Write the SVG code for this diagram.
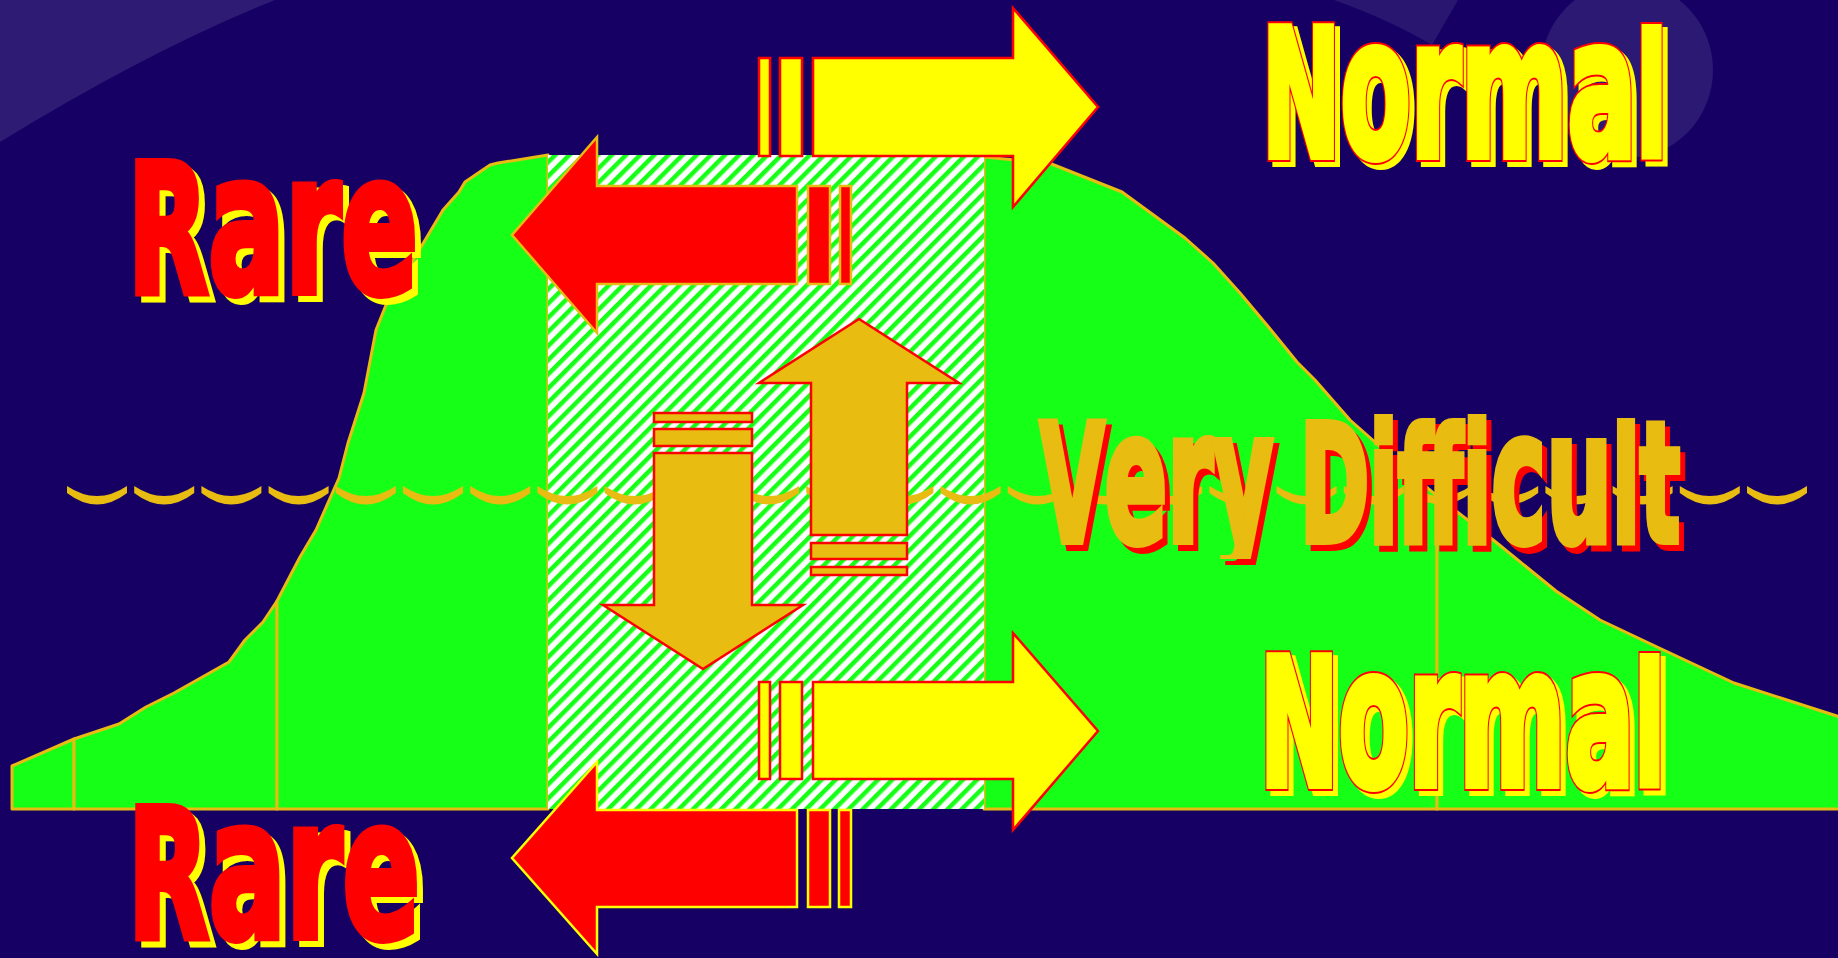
<svg xmlns="http://www.w3.org/2000/svg" width="1838" height="958" viewBox="0 0 1838 958">
<defs>
<style>
.bg{fill:#170064}
.glow{fill:#2e1c74}
.hill{fill:#16ff16;stroke:#e8bc10;stroke-width:3;stroke-linejoin:round}
.wave{fill:#e8bc10}
.ya{fill:#ffff00;stroke:#ff0000;stroke-width:2.5}
.ra1{fill:#ff0000;stroke:#e8bc10;stroke-width:2.5}
.ra2{fill:#ff0000;stroke:#ffff00;stroke-width:2.5}
.ga{fill:#e8bc10;stroke:#ff0000;stroke-width:2.5}
.lbl{font-family:"DejaVu Sans","Liberation Sans",sans-serif;font-weight:bold;stroke-linejoin:miter;stroke-miterlimit:3}
.n-sh{fill:#ffff00;stroke:#ffff00;stroke-width:12}
.n-out{fill:#ff0000;stroke:#ff0000;stroke-width:12}
.n-in{fill:#ffff00;stroke:#ffff00;stroke-width:8}
.r-sh{fill:#ffff00;stroke:#ffff00;stroke-width:8}
.r-in{fill:#ff0000;stroke:#ff0000;stroke-width:8}
.v-sh{fill:#ff0000;stroke:#ff0000;stroke-width:8}
.v-in{fill:#e8bc10;stroke:#e8bc10;stroke-width:8}
</style>
<pattern id="hatch" patternUnits="userSpaceOnUse" width="10" height="10" patternTransform="rotate(45)">
<rect width="10" height="10" fill="#ffffff"/>
<rect width="4.5" height="10" fill="#16ff16"/>
</pattern>
<clipPath id="clip-very" clipPathUnits="userSpaceOnUse">
<rect x="0" y="0" width="1838" height="559"/>
</clipPath>
<text id="t-normal-top" class="lbl" x="1262" y="156" textLength="405" lengthAdjust="spacingAndGlyphs"><tspan font-size="176">N</tspan><tspan font-size="192">orma</tspan><tspan font-size="168">l</tspan></text>
<text id="t-normal-bot" class="lbl" x="1260" y="785" textLength="405" lengthAdjust="spacingAndGlyphs"><tspan font-size="176">N</tspan><tspan font-size="192">orma</tspan><tspan font-size="168">l</tspan></text>
<text id="t-rare-top" class="lbl" x="128" y="292" textLength="290" lengthAdjust="spacingAndGlyphs"><tspan font-size="178">R</tspan><tspan font-size="194">are</tspan></text>
<text id="t-rare-bot" class="lbl" x="128" y="937" textLength="292" lengthAdjust="spacingAndGlyphs"><tspan font-size="178">R</tspan><tspan font-size="194">are</tspan></text>
<text id="t-very" class="lbl" x="1040" y="541" textLength="640" lengthAdjust="spacingAndGlyphs"><tspan font-size="163">V</tspan><tspan font-size="181">ery</tspan><tspan font-size="150"> </tspan><tspan font-size="163">D</tspan><tspan font-size="163">i</tspan><tspan font-size="157">ff</tspan><tspan font-size="163">i</tspan><tspan font-size="181">cu</tspan><tspan font-size="157">l</tspan><tspan font-size="165">t</tspan></text>
</defs>

<g id="background">
<rect class="bg" x="0" y="0" width="1838" height="958"/>
<path class="glow" d="M0,0 L275,0 Q150,50 0,142 Z"/>
<path class="glow" d="M1334,0 L1458,0 L1432,45 Q1390,20 1334,0 Z" opacity="0.8"/>
<ellipse class="glow" cx="1627" cy="70" rx="86" ry="88" opacity="0.9"/>
</g>

<g id="distribution">
<polygon class="hill" points="12,766 74,739 74,809 12,809"/>
<polygon class="hill" points="74,739 119,724 146,707 174,693 229,662 245,640 263,622 277,601 277,809 74,809"/>
<polygon class="hill" points="277,601 300,557 316,530 339,478 348,443 364,393 376,330 386,305 395,290 421,247 443,210 459,192 465,182 490,165 498,163 548,155 548,809 277,809"/>
<polygon class="hill" points="984,157 1049,163 1122,192 1185,238 1213,263 1240,293 1271,330 1297,362 1315,380 1350,420 1410,473 1437,496 1437,809 984,809"/>
<polygon class="hill" points="1437,496 1497,543 1556,591 1600,620 1655,646 1734,683 1840,717 1840,809 1437,809"/>
<rect id="hatched-band" x="548" y="155" width="436" height="654" fill="url(#hatch)"/>
</g>

<g id="waterline">
<path class="wave" d="M67,486 q30,20 60,0v7q-30,23-60,0zm67.2,0 q30,20 60,0v7q-30,23-60,0zm67.2,0 q30,20 60,0v7q-30,23-60,0zm67.2,0 q30,20 60,0v7q-30,23-60,0zm67.2,0 q30,20 60,0v7q-30,23-60,0zm67.2,0 q30,20 60,0v7q-30,23-60,0zm67.2,0 q30,20 60,0v7q-30,23-60,0zm67.2,0 q30,20 60,0v7q-30,23-60,0zm67.2,0 q30,20 60,0v7q-30,23-60,0zm67.2,0 q30,20 60,0v7q-30,23-60,0zm67.2,0 q30,20 60,0v7q-30,23-60,0zm67.2,0 q30,20 60,0v7q-30,23-60,0zm67.2,0 q30,20 60,0v7q-30,23-60,0zm67.2,0 q30,20 60,0v7q-30,23-60,0zm67.2,0 q30,20 60,0v7q-30,23-60,0zm67.2,0 q30,20 60,0v7q-30,23-60,0zm67.2,0 q30,20 60,0v7q-30,23-60,0zm67.2,0 q30,20 60,0v7q-30,23-60,0zm67.2,0 q30,20 60,0v7q-30,23-60,0zm67.2,0 q30,20 60,0v7q-30,23-60,0zm67.2,0 q30,20 60,0v7q-30,23-60,0zm67.2,0 q30,20 60,0v7q-30,23-60,0zm67.2,0 q30,20 60,0v7q-30,23-60,0zm67.2,0 q30,20 60,0v7q-30,23-60,0zm67.2,0 q30,20 60,0v7q-30,23-60,0zm67.2,0 q30,20 60,0v7q-30,23-60,0z"/>
</g>

<g id="connectors">
<g id="arrow-yellow-top">
<rect class="ya" x="759" y="58" width="11" height="98"/>
<rect class="ya" x="780" y="58" width="22" height="98"/>
<polygon class="ya" points="813,58 1013,58 1013,8 1098,107 1013,207 1013,156 813,156"/>
</g>
<g id="arrow-red-top">
<polygon class="ra1" points="797,186 597,186 597,137 512,235 597,333 597,284 797,284"/>
<rect class="ra1" x="808" y="186" width="22" height="98"/>
<rect class="ra1" x="840" y="186" width="11" height="98"/>
</g>
<g id="arrow-up">
<polygon class="ga" points="811,535 811,383 759,383 859,319 959,383 907,383 907,535"/>
<rect class="ga" x="811" y="543" width="96" height="16"/>
<rect class="ga" x="811" y="567" width="96" height="8"/>
</g>
<g id="arrow-down">
<rect class="ga" x="654" y="413" width="98" height="9"/>
<rect class="ga" x="654" y="429" width="98" height="17"/>
<polygon class="ga" points="654,453 752,453 752,605 803,605 703,669 603,605 654,605"/>
</g>
<g id="arrow-yellow-bottom">
<rect class="ya" x="759" y="682" width="11" height="97"/>
<rect class="ya" x="780" y="682" width="22" height="97"/>
<polygon class="ya" points="813,682 1013,682 1013,633 1098,731 1013,830 1013,779 813,779"/>
</g>
<g id="arrow-red-bottom">
<polygon class="ra2" points="797,810 597,810 597,762 512,858 597,954 597,907 797,907"/>
<rect class="ra2" x="808" y="810" width="22" height="97"/>
<rect class="ra2" x="839" y="810" width="12" height="97"/>
</g>
</g>

<g id="label-normal-top">
<use href="#t-normal-top" class="n-sh" transform="translate(5,5)"/>
<use href="#t-normal-top" class="n-out"/>
<use href="#t-normal-top" class="n-in"/>
</g>
<g id="label-rare-top">
<use href="#t-rare-top" class="r-sh" transform="translate(6,6)"/>
<use href="#t-rare-top" class="r-in"/>
</g>
<g id="label-very-difficult">
<use href="#t-very" class="v-sh" transform="translate(5,6)" clip-path="url(#clip-very)"/>
<use href="#t-very" class="v-in" clip-path="url(#clip-very)"/>
</g>
<g id="label-normal-bottom">
<use href="#t-normal-bot" class="n-sh" transform="translate(5,5)"/>
<use href="#t-normal-bot" class="n-out"/>
<use href="#t-normal-bot" class="n-in"/>
</g>
<g id="label-rare-bottom">
<use href="#t-rare-bot" class="r-sh" transform="translate(6,6)"/>
<use href="#t-rare-bot" class="r-in"/>
</g>
</svg>
